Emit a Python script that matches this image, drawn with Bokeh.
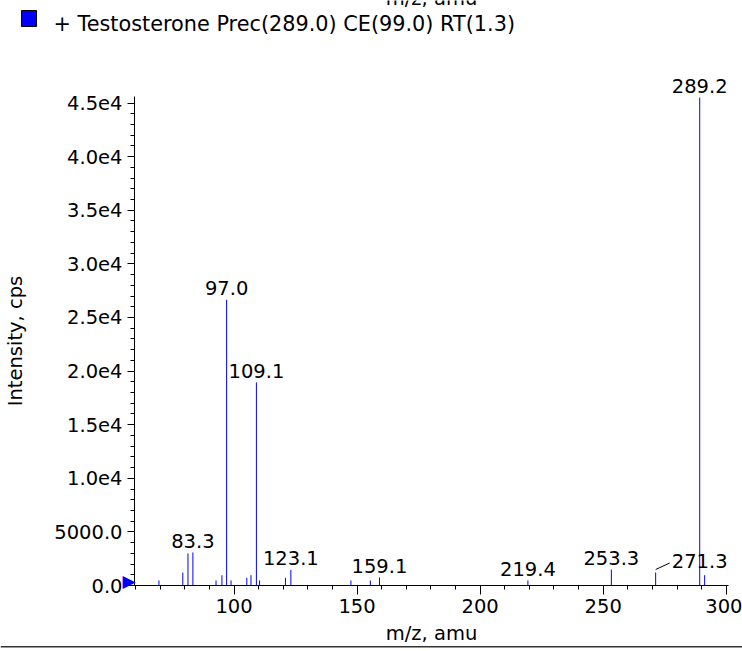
from bokeh.plotting import figure
from bokeh.layouts import column
from bokeh.models import Range1d, FixedTicker, ColumnDataSource, LabelSet, LinearAxis
from bokeh.core.properties import value
from bokeh.embed import file_html
from bokeh.resources import INLINE

# ---------------- data ----------------
peak_mz = [69.5, 79.2, 81.3, 83.3, 92.7, 95.1, 97.0, 98.8, 105.2, 106.9, 109.1,
           110.4, 120.9, 123.1, 147.5, 155.4, 159.1, 219.4, 253.3, 271.3, 289.2, 291.2]
peak_int = [470, 1210, 2990, 3080, 470, 960, 26650, 470, 720, 960, 18950,
            470, 720, 1460, 470, 470, 750, 470, 1490, 1210, 45500, 960]

label_mz = [83.3, 97.0, 109.1, 123.1, 159.1, 219.4, 253.3, 271.3, 289.2]
label_int = [3080, 26650, 18950, 1460, 750, 470, 1490, 1210, 45500]
label_text = ["83.3", "97.0", "109.1", "123.1", "159.1", "219.4", "253.3", "271.3", "289.2"]

x_ticks = [100, 150, 200, 250, 300]
x_minor = list(range(60, 301, 10))
y_ticks = [0, 5000, 10000, 15000, 20000, 25000, 30000, 35000, 40000, 45000]
y_tick_labels = ["0.0", "5000.0", "1.0e4", "1.5e4", "2.0e4", "2.5e4",
                 "3.0e4", "3.5e4", "4.0e4", "4.5e4"]
y_minor = list(range(0, 45001, 1000))

legend_text = "+ Testosterone Prec(289.0) CE(99.0) RT(1.3)"
x_title = "m/z, amu"
y_title = "Intensity, cps"

# ---------------- layout / style ----------------
W = 742
LEG_H, MAIN_H, BOT_H = 40, 582, 29
B_LEFT, B_RIGHT, B_TOP, B_BOTTOM = 134, 14, 56, 37
FRAME_W = W - B_LEFT - B_RIGHT
FRAME_H = MAIN_H - B_TOP - B_BOTTOM
PX_PER_X = 2.4615          # px per m/z unit
PX_PER_Y = 482.5 / 45000   # px per cps
X_AT_100 = 233.5           # page x of m/z 100
X0 = 100 - (X_AT_100 - B_LEFT) / PX_PER_X
X1 = X0 + FRAME_W / PX_PER_X
Y0 = 0
Y1 = FRAME_H / PX_PER_Y
FONT = "DejaVu Sans"
FS = "19.5px"
BLUE = "#0000FF"


def strip(height):
    """A bare figure whose frame covers the whole strip, in pixel-like units."""
    f = figure(width=W, height=height, output_backend="svg", toolbar_location=None,
               x_axis_type=None, y_axis_type=None,
               x_range=Range1d(0, W), y_range=Range1d(0, height), min_border=0)
    f.grid.visible = False
    f.outline_line_color = None
    f.background_fill_color = "white"
    f.border_fill_color = "white"
    f.frame_align = False
    return f


def put_text(fig, x, y, text, size, align):
    src = ColumnDataSource(dict(x=[x], y=[y], text=[text]))
    fig.add_layout(LabelSet(x="x", y="y", text="text", source=src, text_align=align,
                            text_baseline="alphabetic", text_font=value(FONT),
                            text_font_size=size, text_color="black"))


# ---- legend strip (top); y counts up from the strip bottom ----
leg = strip(LEG_H)
leg.quad(left=[21], right=[36], top=[LEG_H - 10], bottom=[LEG_H - 26], fill_color=BLUE,
         line_color="black", line_width=1)
put_text(leg, 53, LEG_H - 30, legend_text, "20.8px", "left")
put_text(leg, B_LEFT + FRAME_W / 2, LEG_H - 4.5, x_title, FS, "center")

# ---- main spectrum ----
p = figure(width=W, height=MAIN_H, output_backend="svg", toolbar_location=None,
           x_range=Range1d(X0, X1), y_range=Range1d(Y0, Y1),
           min_border_left=B_LEFT, min_border_right=B_RIGHT,
           min_border_top=B_TOP, min_border_bottom=B_BOTTOM)
p.grid.visible = False
p.outline_line_color = None
p.background_fill_color = "white"
p.border_fill_color = "white"
p.frame_align = False

for ax in (p.xaxis[0], p.yaxis[0]):
    ax.axis_line_color = "black"
    ax.major_tick_line_color = "black"
    ax.minor_tick_line_color = "black"
    ax.major_tick_in = 0
    ax.minor_tick_in = 0
    ax.minor_tick_out = 4
    ax.major_label_text_font = FONT
    ax.major_label_text_font_size = FS
    ax.major_label_text_color = "black"
    ax.axis_label_text_font = FONT
    ax.axis_label_text_font_size = FS
    ax.axis_label_text_font_style = "normal"
    ax.axis_label_text_color = "black"

p.xaxis.ticker = FixedTicker(ticks=x_ticks, minor_ticks=x_minor)
p.xaxis.major_tick_out = 9
p.xaxis.major_label_standoff = 4

p.yaxis.ticker = FixedTicker(ticks=y_ticks, minor_ticks=y_minor)
p.yaxis.major_label_overrides = dict(zip(y_ticks, y_tick_labels))
p.yaxis.major_tick_out = 7
p.yaxis.major_label_standoff = 5
p.yaxis.axis_label = y_title
p.yaxis.axis_label_standoff = 24

# origin marker: a blue triangle drawn as the single label of an outer, bare left axis
mark_y = round(5 / PX_PER_Y)
mark_axis = LinearAxis(ticker=FixedTicker(ticks=[mark_y], minor_ticks=[]),
                       major_label_overrides={mark_y: "▶"},
                       axis_line_color=None, major_tick_line_color=None,
                       minor_tick_line_color=None, major_tick_out=0, major_tick_in=0,
                       major_label_standoff=-134, major_label_text_font=FONT,
                       major_label_text_font_size="17px", major_label_text_color=BLUE)
p.add_layout(mark_axis, "left")

# peaks
src = ColumnDataSource(dict(x=peak_mz, y0=[0] * len(peak_mz), y1=peak_int))
p.segment(x0="x", y0="y0", x1="x", y1="y1", source=src, line_color=BLUE, line_width=1)

# the tallest peak's label sits above the frame: show it via a bare top axis
top_i = label_int.index(max(label_int))
top_axis = LinearAxis(ticker=FixedTicker(ticks=[label_mz[top_i]], minor_ticks=[]),
                      major_label_overrides={label_mz[top_i]: label_text[top_i]},
                      axis_line_color=None, major_tick_line_color=None,
                      minor_tick_line_color=None, major_tick_out=0, major_tick_in=0,
                      major_label_standoff=4, major_label_text_font=FONT,
                      major_label_text_font_size=FS, major_label_text_color="black")
p.add_layout(top_axis, "above")

# remaining peak labels (271.3 moved aside with a leader line)
SHIFTED = "271.3"
keep = [k for k in range(len(label_text)) if k != top_i]
dx = [44 if label_text[k] == SHIFTED else 0 for k in keep]
lsrc = ColumnDataSource(dict(x=[label_mz[k] for k in keep], y=[label_int[k] for k in keep],
                             text=[label_text[k] for k in keep], dx=dx))
p.add_layout(LabelSet(x="x", y="y", text="text", source=lsrc, x_offset="dx", y_offset=4.5,
                      text_align="center", text_baseline="alphabetic",
                      text_font=value(FONT), text_font_size=FS, text_color="black"))
i = label_text.index(SHIFTED)
p.segment(x0=[label_mz[i]], y0=[label_int[i] + 3 / PX_PER_Y],
          x1=[label_mz[i] + 14 / PX_PER_X], y1=[label_int[i] + 9.5 / PX_PER_Y],
          line_color="black", line_width=1)

# ---- bottom strip: x-axis title and the closing rule ----
bot = strip(BOT_H)
put_text(bot, B_LEFT + FRAME_W / 2, BOT_H - 17, x_title, FS, "center")
bot.quad(left=[0], right=[W], top=[BOT_H - 23.5], bottom=[BOT_H - 25], fill_color="#333333",
         line_color=None)

layout = column(leg, p, bot, spacing=0)
open("out.html", "w").write(file_html(layout, INLINE))
